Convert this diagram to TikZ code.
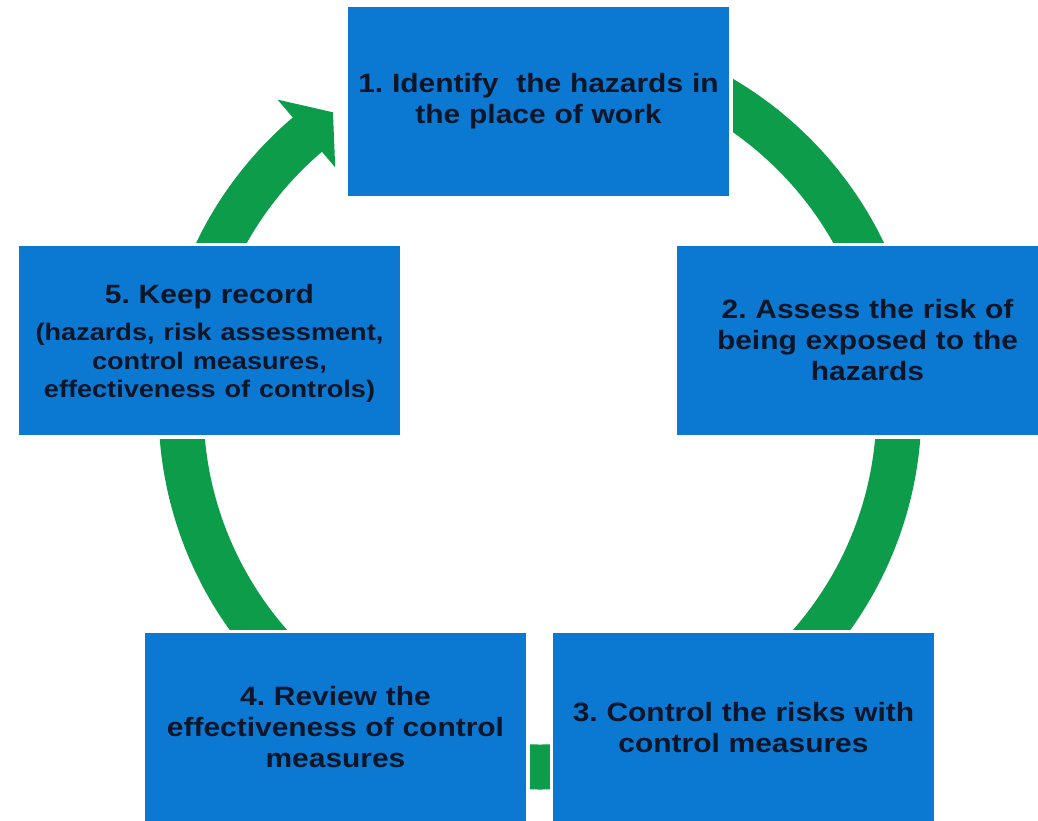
\documentclass[tikz,border=0pt]{standalone}
\usepackage{fontspec}
\newfontfamily\cyclefont{Liberation Sans}[FakeStretch=1.13]
\usepackage{tikz}
\usetikzlibrary{positioning}
\definecolor{stageblue}{RGB}{11,120,209}
\definecolor{ringgreen}{RGB}{12,156,74}
\definecolor{inkblue}{RGB}{12,22,40}

\begin{document}
\begin{tikzpicture}[x=1pt,y=-1pt,
    stagebox/.style={rectangle, fill=stageblue, draw=white, line width=3.5pt,
      minimum width=384.5pt, minimum height=192.5pt, text width=370pt, align=center,
      text=inkblue, font=\cyclefont\bfseries\frenchspacing\fontsize{26.5}{31}\selectfont}]
  \clip (0,0) rectangle (1038,820);
  \fill[white] (0,0) rectangle (1038,820);
  % green ring running behind the stages
  \coordinate (hub) at (540,408);
  \draw[ringgreen, line width=45pt] ([shift={(-90:359)}]hub)
    arc[start angle=-90, end angle=230.5, radius=359];
  \fill[ringgreen] ([shift={(229.6:405)}]hub) -- ([shift={(235:361)}]hub)
    -- ([shift={(229.6:316)}]hub) -- cycle;
  % the five stages
  \node[stagebox] at (538.5,101.5) (identify) {1. Identify~ the hazards in\\ the place of work};
  \node[stagebox] at (867.5,340.5) (assess) {2. Assess the risk of\\ being exposed to the\\ hazards};
  \node[stagebox] at (743.5,727.5) (control) {3. Control the risks with\\ control measures};
  \node[stagebox] at (335.5,727.5) (review) {4. Review the\\ effectiveness of control\\ measures};
  \node[stagebox] at (209.5,340.5) (record) {\rule{0pt}{25.5pt}5. Keep record\par\vspace{8.5pt}
    {\fontsize{24}{28.5}\selectfont (hazards, risk assessment,\\ control measures,\\ effectiveness of controls)\par}};
\end{tikzpicture}
\end{document}
